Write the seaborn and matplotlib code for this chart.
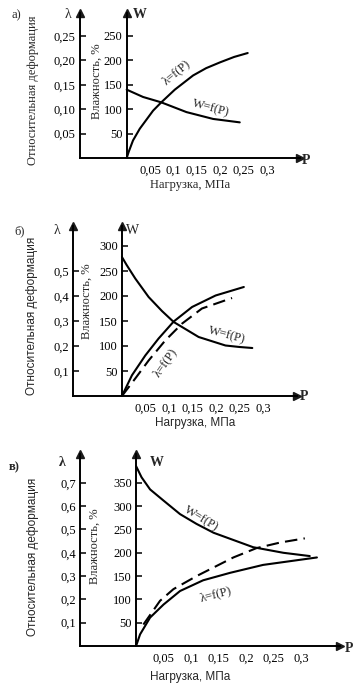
import matplotlib
matplotlib.use("Agg")
import matplotlib.pyplot as plt
import matplotlib.ticker as mtick
import seaborn as sns

sns.set_theme(style="white")
plt.rcParams['font.family'] = ['Liberation Serif', 'DejaVu Serif']

# --- panel а) ---
a_w_p = [0, 0.035, 0.074, 0.128, 0.185, 0.242]
a_w = [140, 125, 114, 94, 80, 73]
a_lam_p = [0, 0.004, 0.0135, 0.028, 0.0565, 0.074, 0.103, 0.142, 0.17, 0.2, 0.23, 0.259]
a_lam = [0, 0.012, 0.036, 0.060, 0.097, 0.114, 0.140, 0.169, 0.184, 0.196, 0.207, 0.215]
a_w_ticks = [50, 100, 150, 200, 250]
a_lam_ticks = [0.05, 0.10, 0.15, 0.20, 0.25]

# --- panel б) ---
b_w_p = [0, 0.01, 0.0283, 0.0567, 0.085, 0.11, 0.163, 0.22, 0.25, 0.277]
b_w = [278, 262, 235, 198, 170, 148, 118, 101, 98, 96]
b_lam_p = [0, 0.0213, 0.0496, 0.0779, 0.11, 0.149, 0.199, 0.259]
b_lam = [0, 0.083, 0.162, 0.23, 0.298, 0.356, 0.402, 0.436]
b_lam2_p = [0, 0.0283, 0.0567, 0.092, 0.128, 0.17, 0.234]
b_lam2 = [0, 0.07, 0.142, 0.222, 0.29, 0.35, 0.392]
b_w_ticks = [50, 100, 150, 200, 250, 300]
b_lam_ticks = [0.1, 0.2, 0.3, 0.4, 0.5]

# --- panel в) ---
c_w_p = [0, 0.01, 0.0255, 0.05, 0.08, 0.11, 0.141, 0.213, 0.268, 0.316]
c_w = [386, 362, 336, 312, 283, 262, 243, 212, 200, 193]
c_lam_p = [0, 0.0073, 0.0255, 0.05, 0.08, 0.122, 0.171, 0.231, 0.28, 0.329]
c_lam = [0, 0.05, 0.122, 0.178, 0.236, 0.282, 0.314, 0.348, 0.364, 0.38]
c_lam2_p = [0.0133, 0.0436, 0.068, 0.11, 0.177, 0.219, 0.262, 0.307]
c_lam2 = [0.092, 0.194, 0.244, 0.30, 0.38, 0.42, 0.444, 0.462]
c_w_ticks = [50, 100, 150, 200, 250, 300, 350]
c_lam_ticks = [0.1, 0.2, 0.3, 0.4, 0.5, 0.6, 0.7]

p_ticks = [0.05, 0.1, 0.15, 0.2, 0.25, 0.3]

W_PX, H_PX = 362, 691
fig = plt.figure(figsize=(W_PX / 100, H_PX / 100), dpi=100)
fig.patch.set_facecolor("white")
SANS = ["Liberation Sans", "DejaVu Sans"]


def comma(v, pos=None):
    return f"{v:g}".replace(".", ",")


def fig_text(x, y, s, **kw):
    fig.text(x / W_PX, 1 - y / H_PX, s, ha="center", va="center", **kw)


def draw_panel(rect, xlim, wtop, scale, w_p, w, lams, w_ticks, lam_ticks, lam_fmt):
    left, top, right, bottom = rect
    ax = fig.add_axes([left / W_PX, 1 - bottom / H_PX,
                       (right - left) / W_PX, (bottom - top) / H_PX])
    ax.set_xlim(*xlim)
    ax.set_ylim(0, wtop)
    ax.patch.set_alpha(0)
    ax2 = ax.twinx()
    ax2.set_ylim(0, wtop / scale)

    for s in ["top", "right"]:
        ax.spines[s].set_visible(False)
    for s in ["top", "right", "bottom"]:
        ax2.spines[s].set_visible(False)
    ax.spines["left"].set_position(("data", 0))
    ax2.spines["left"].set_visible(True)
    for sp in list(ax.spines.values()) + list(ax2.spines.values()):
        sp.set_color("black")
        sp.set_linewidth(1.4)

    ax.set_xticks(p_ticks)
    ax.xaxis.set_major_formatter(mtick.FuncFormatter(comma))
    ax.set_yticks(w_ticks)
    ax2.yaxis.set_ticks_position("left")
    ax2.set_yticks(lam_ticks)
    ax2.yaxis.set_major_formatter(mtick.FuncFormatter(lambda v, p: (lam_fmt % v).replace(".", ",")))
    for a in (ax, ax2):
        a.tick_params(direction="in", length=4, width=1.1, colors="black",
                      labelsize=9, pad=3)
    ax.tick_params(axis="x", pad=5)

    sns.lineplot(x=w_p, y=w, ax=ax, color="black", linewidth=1.5, estimator=None, sort=False)
    for (lp, lv, dashed) in lams:
        line = sns.lineplot(x=lp, y=lv, ax=ax2, color="black", linewidth=1.5,
                            estimator=None, sort=False)
        if dashed:
            line.lines[-1].set_dashes((6, 3))
    ax.set_xlabel("")
    ax.set_ylabel("")
    ax2.set_ylabel("")

    # axis arrows
    ax.plot(1, 0, ">k", transform=ax.get_yaxis_transform(), clip_on=False, markersize=6)
    ax.plot(0, 1, "^k", transform=ax.get_xaxis_transform(), clip_on=False, markersize=6)
    ax.plot(0, 1, "^k", transform=ax.transAxes, clip_on=False, markersize=6)
    return ax


# а)
ax_a = draw_panel((80, 13, 300, 158), (-0.1, 0.371), 297, 1000,
                  a_w_p, a_w, [(a_lam_p, a_lam, False)], a_w_ticks, a_lam_ticks, "%.2f")
ax_a.text(0.107, 176, "λ=f(P)", rotation=40, fontsize=9, ha="center", va="center")
ax_a.text(0.18, 101, "W=f(P)", rotation=-15, fontsize=9, ha="center", va="center")
fig_text(16, 15, "а)", fontsize=9)
fig_text(68, 15, "λ", fontsize=10)
fig_text(140, 15, "W", fontsize=10, fontweight="bold")
fig_text(306, 160, "P", fontsize=10, fontweight="bold")
fig_text(33, 90, "Относительная деформация", fontsize=9, rotation=90)
fig_text(97, 81, "Влажность, %", fontsize=9, rotation=90)
fig_text(190, 185, "Нагрузка, МПа", fontsize=9)

# б)
ax_b = draw_panel((73, 226, 297, 396), (-0.104, 0.372), 340, 500,
                  b_w_p, b_w, [(b_lam_p, b_lam, False), (b_lam2_p, b_lam2, True)],
                  b_w_ticks, b_lam_ticks, "%.1f")
ax_b.text(0.092, 67, "λ=f(P)", rotation=55, fontsize=9, ha="center", va="center")
ax_b.text(0.222, 121, "W=f(P)", rotation=-15, fontsize=9, ha="center", va="center")
fig_text(20, 231, "б)", fontsize=9)
fig_text(57, 230, "λ", fontsize=10)
fig_text(133, 230, "W", fontsize=10)
fig_text(304, 397, "P", fontsize=10, fontweight="bold")
fig_text(32, 316, "Относительная деформация", fontsize=8.5, rotation=90, family=SANS)
fig_text(87, 301, "Влажность, %", fontsize=9, rotation=90)
fig_text(195, 423, "Нагрузка, МПа", fontsize=8.5, family=SANS)

# в)
ax_c = draw_panel((80, 454, 340, 646), (-0.102, 0.371), 412, 500,
                  c_w_p, c_w, [(c_lam_p, c_lam, False), (c_lam2_p, c_lam2, True)],
                  c_w_ticks, c_lam_ticks, "%.1f")
ax_c.text(0.144, 112, "λ=f(P)", rotation=15, fontsize=9, ha="center", va="center")
ax_c.text(0.119, 272, "W=f(P)", rotation=-31, fontsize=9, ha="center", va="center")
fig_text(14, 467, "в)", fontsize=9, fontweight="bold")
fig_text(62, 463, "λ", fontsize=10, fontweight="bold")
fig_text(157, 463, "W", fontsize=10, fontweight="bold")
fig_text(349, 648, "P", fontsize=10, fontweight="bold")
fig_text(33, 557, "Относительная деформация", fontsize=8.5, rotation=90, family=SANS)
fig_text(95, 546, "Влажность, %", fontsize=9, rotation=90)
fig_text(190, 677, "Нагрузка, МПа", fontsize=8.5, family=SANS)

fig.savefig("out.png", dpi=100)
